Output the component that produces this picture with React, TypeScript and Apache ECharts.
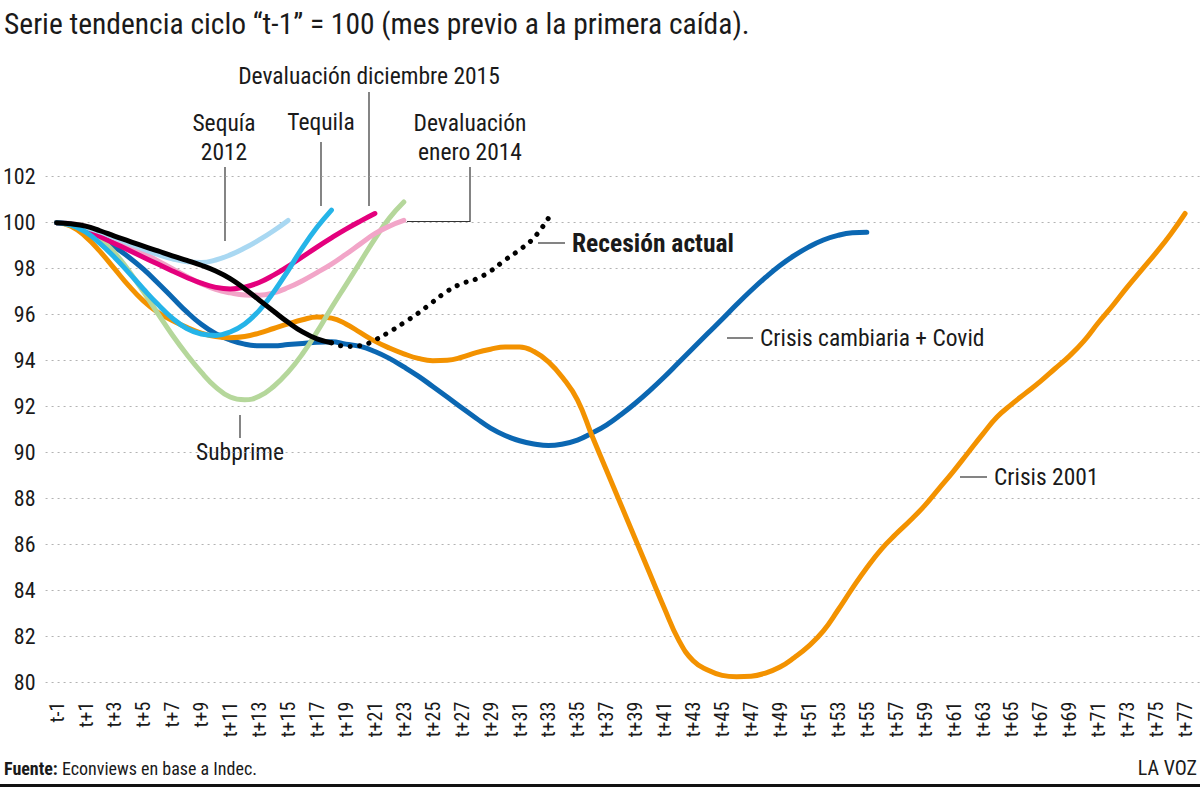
import React, { useEffect, useRef } from "react";
import * as echarts from "echarts";

// ---- Data ----
const categories: string[] = Array.from({ length: 79 }, (_, i) =>
  i === 0 ? "t-1" : i === 1 ? "t" : `t+${i - 1}`
);
const labelIndexes: number[] = Array.from({ length: 40 }, (_, k) => k * 2);
const yTicks = { min: 80, max: 102, step: 2 };

const crisis2001: number[] = [
  100, 99.85, 99.4, 98.75, 98.0, 97.25, 96.6, 96.1, 95.75, 95.45,
  95.2, 95.05, 95.0, 95.05, 95.2, 95.4, 95.6, 95.78, 95.9, 95.85,
  95.6, 95.22, 94.85, 94.55, 94.3, 94.1, 94.0, 94.02, 94.15, 94.35,
  94.5, 94.6, 94.6, 94.4, 93.95, 93.25, 92.3, 90.75, 89.25, 87.75,
  86.25, 84.75, 83.25, 81.85, 80.95, 80.55, 80.32, 80.26, 80.28, 80.42,
  80.68, 81.1, 81.6, 82.25, 83.15, 84.1, 85.0, 85.8, 86.45, 87.05,
  87.7, 88.45, 89.2, 90.0, 90.8, 91.55, 92.1, 92.6, 93.1, 93.65,
  94.2, 94.85, 95.65, 96.4, 97.2, 97.95, 98.7, 99.5, 100.4,
];
const crisisCambiariaCovid: number[] = [
  100, 99.9, 99.65, 99.35, 98.95, 98.5, 97.98, 97.38, 96.75, 96.12,
  95.58, 95.17, 94.9, 94.72, 94.65, 94.65, 94.7, 94.75, 94.8, 94.82,
  94.72, 94.62, 94.4, 94.1, 93.73, 93.33, 92.88, 92.42, 91.95, 91.5,
  91.07, 90.75, 90.52, 90.38, 90.31, 90.38, 90.55, 90.85, 91.2, 91.65,
  92.15, 92.7, 93.29, 93.92, 94.55, 95.18, 95.8, 96.44, 97.05, 97.62,
  98.14, 98.58, 98.95, 99.25, 99.45, 99.56, 99.58,
];
const subprime: number[] = [
  100, 99.9, 99.65, 99.3, 98.7, 97.9, 97.0, 96.05, 95.12, 94.27,
  93.5, 92.85, 92.42, 92.3, 92.45, 92.88, 93.5, 94.3, 95.25, 96.3,
  97.3, 98.3, 99.3, 100.2, 100.9,
];
const devaluacionEnero2014: number[] = [
  100, 99.97, 99.85, 99.6, 99.3, 99.0, 98.68, 98.34, 98.0, 97.66,
  97.35, 97.1, 96.95, 96.86, 96.85, 96.95, 97.18, 97.48, 97.83, 98.2,
  98.63, 99.08, 99.52, 99.85, 100.1,
];
const devaluacionDiciembre2015: number[] = [
  100, 99.92, 99.7, 99.4, 99.1, 98.8, 98.5, 98.2, 97.9, 97.62,
  97.37, 97.19, 97.12, 97.2, 97.4, 97.72, 98.1, 98.52, 98.94, 99.34,
  99.72, 100.07, 100.4,
];
const sequia2012: number[] = [
  100, 99.95, 99.8, 99.6, 99.35, 99.1, 98.85, 98.62, 98.43, 98.3,
  98.27, 98.38, 98.6, 98.9, 99.25, 99.65, 100.1,
];
const tequila: number[] = [
  100, 99.9, 99.6, 99.1, 98.5, 97.82, 97.12, 96.45, 95.85, 95.4,
  95.16, 95.1, 95.25, 95.6, 96.18, 96.98, 97.92, 98.92, 99.8, 100.55,
];
const recesionActual: number[] = [
  100, 99.95, 99.85, 99.65, 99.42, 99.2, 98.98, 98.77, 98.56, 98.36,
  98.15, 97.9, 97.57, 97.13, 96.64, 96.15, 95.67, 95.25, 94.95, 94.78,
];
const recesionStart = 19;
const recesionReciente: number[] = [
  94.78, 94.62, 94.65, 94.9, 95.25, 95.65, 96.07, 96.55, 97.02, 97.35,
  97.55, 97.9, 98.38, 98.82, 99.35, 100.2,
];

const FONT = "'Liberation Sans Narrow', 'Roboto Condensed', Roboto, sans-serif";
const TXT = "#1a1a1a";

const toPairs = (arr: number[], start = 0) => arr.map((v, i) => [start + i, v]);

export default function App() {
  const ref = useRef<HTMLDivElement>(null);
  useEffect(() => {
    if (!ref.current) return;
    const chart = echarts.init(ref.current, undefined, { renderer: "svg" });

    const line = (
      name: string,
      data: number[][],
      color: string,
      z: number,
      extra: any = {}
    ) => ({
      name,
      type: "line",
      data,
      showSymbol: false,
      symbol: "none",
      smooth: 0.45,
      z,
      lineStyle: { color, width: 5, cap: "round", join: "round", ...extra },
      emphasis: { disabled: true },
    });

    const text = (x: number, y: number, t: string, opts: any = {}) => ({
      type: "text",
      x,
      y,
      silent: true,
      style: {
        text: t,
        fill: TXT,
        fontFamily: FONT,
        fontSize: 23.5,
        align: opts.align || "center",
        textAlign: opts.align || "center",
        verticalAlign: "middle",
        textVerticalAlign: "middle",
        lineHeight: 29,
        ...opts.style,
      },
    });
    const seg = (x1: number, y1: number, x2: number, y2: number) => ({
      type: "line",
      silent: true,
      shape: { x1, y1, x2, y2 },
      style: { stroke: "#333", lineWidth: 1.2 },
    });

    chart.setOption({
      animation: false,
      backgroundColor: "#fff",
      grid: { left: 43, right: 0, top: 176.7, bottom: 104.3, containLabel: false },
      xAxis: {
        type: "value",
        min: -0.76,
        max: 79.03,
        axisLine: { show: false },
        axisTick: { show: false },
        splitLine: { show: false },
        axisLabel: {
          customValues: labelIndexes,
          formatter: (v: number) => categories[Math.round(v)] ?? "",
          rotate: 90,
          margin: 19,
          fontSize: 20,
          color: TXT,
          fontFamily: FONT,
        },
      },
      yAxis: {
        type: "value",
        min: yTicks.min,
        max: yTicks.max,
        interval: yTicks.step,
        axisLine: { show: false },
        axisTick: { show: false },
        splitLine: { lineStyle: { color: "#b3b3b3", type: [2, 4], width: 1 } },
        axisLabel: { margin: 10, fontSize: 22, color: TXT, fontFamily: FONT },
      },
      series: [
        line("Crisis cambiaria + Covid", toPairs(crisisCambiariaCovid), "#0b67b2", 2),
        line("Crisis 2001", toPairs(crisis2001), "#f39200", 3),
        line("Subprime", toPairs(subprime), "#b5d79b", 4),
        line("Devaluación enero 2014", toPairs(devaluacionEnero2014), "#f2a5c8", 5),
        line("Devaluación diciembre 2015", toPairs(devaluacionDiciembre2015), "#e4007d", 6),
        line("Sequía 2012", toPairs(sequia2012), "#a9d8f2", 7),
        line("Tequila", toPairs(tequila), "#25b4e8", 8),
        line("Recesión actual", toPairs(recesionActual), "#000000", 10),
        line("Recesión actual (reciente)", toPairs(recesionReciente, recesionStart), "#000000", 10, {
          type: [0.1, 9.5],
          width: 5,
        }),
      ],
      graphic: [
        text(4, 24, "Serie tendencia ciclo “t-1” = 100 (mes previo a la primera caída).", {
          align: "left",
          style: { fontSize: 29.5 },
        }),
        text(369, 76, "Devaluación diciembre 2015"),
        seg(369, 92, 369, 206),
        text(224, 137, "Sequía\n2012"),
        seg(225, 167, 225, 241),
        text(321, 122, "Tequila"),
        seg(321, 142, 321, 206),
        text(470, 137, "Devaluación\nenero 2014"),
        {
          type: "polyline",
          silent: true,
          shape: { points: [[470, 167], [470, 221.5], [407, 221.5]] },
          style: { stroke: "#333", lineWidth: 1.2, fill: null },
        },
        text(240, 452, "Subprime"),
        seg(240, 415, 240, 438),
        seg(538, 243, 565, 243),
        text(572, 243, "Recesión actual", { align: "left", style: { fontWeight: "bold", fontSize: 25.5 } }),
        seg(727, 338, 753, 338),
        text(760, 338, "Crisis cambiaria + Covid", { align: "left" }),
        seg(960, 477, 987, 477),
        text(994, 477, "Crisis 2001", { align: "left" }),
        text(4, 768, "{b|Fuente:} Econviews en base a Indec.", {
          align: "left",
          style: {
            fontSize: 18,
            rich: { b: { fontWeight: "bold", fontSize: 18, fontFamily: FONT, fill: TXT } },
          },
        }),
        text(1197, 768, "LA VOZ", { align: "right", style: { fontSize: 20 } }),
        {
          type: "rect",
          silent: true,
          shape: { x: 0, y: 784, width: 1200, height: 3 },
          style: { fill: "#111" },
        },
      ],
    });
    return () => chart.dispose();
  }, []);

  return (
    <div
      ref={ref}
      style={{ position: "fixed", left: 0, top: 0, width: 1200, height: 787, background: "#fff" }}
    />
  );
}
